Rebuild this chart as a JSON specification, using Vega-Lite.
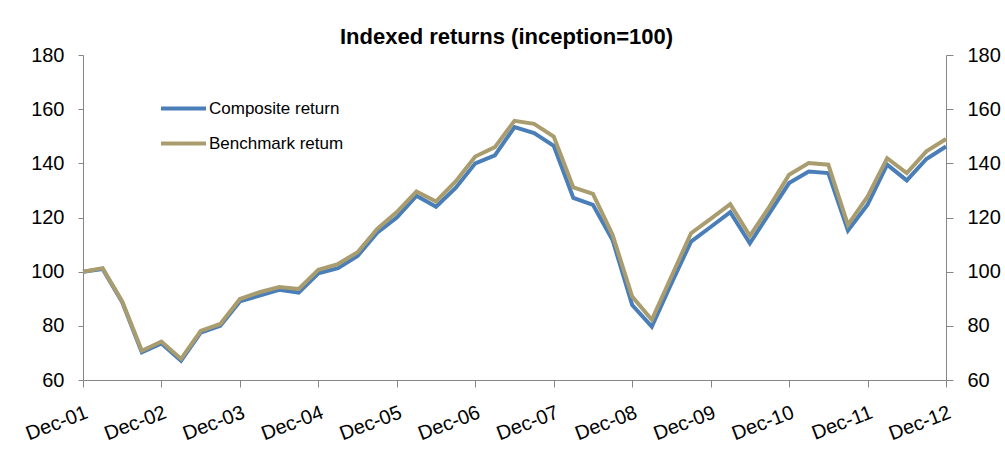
{
  "$schema": "https://vega.github.io/schema/vega-lite/v6.json",
  "width": 863,
  "height": 325,
  "autosize": {"type": "none"},
  "padding": {"left": 83, "top": 55, "right": 59, "bottom": 96},
  "background": "white",
  "title": {"text": "Indexed returns (inception=100)", "font": "Liberation Sans", "fontSize": 22, "fontWeight": "bold", "color": "#000000", "anchor": "middle", "offset": -4, "dx": -8},
  "config": {
    "view": {"stroke": null},
    "axis": {"grid": false, "domainColor": "#868686", "tickColor": "#868686", "labelColor": "#000000", "labelFont": "Liberation Sans", "labelFontSize": 20, "domainWidth": 1, "tickWidth": 1}
  },
  "data": {"values": [
    {"q": "Dec-01", "s": "Composite return", "v": 100},
    {"q": "Mar-02", "s": "Composite return", "v": 101},
    {"q": "Jun-02", "s": "Composite return", "v": 88.7},
    {"q": "Sep-02", "s": "Composite return", "v": 70.2},
    {"q": "Dec-02", "s": "Composite return", "v": 73.5},
    {"q": "Mar-03", "s": "Composite return", "v": 67.1},
    {"q": "Jun-03", "s": "Composite return", "v": 77.5},
    {"q": "Sep-03", "s": "Composite return", "v": 80},
    {"q": "Dec-03", "s": "Composite return", "v": 89},
    {"q": "Mar-04", "s": "Composite return", "v": 91.2},
    {"q": "Jun-04", "s": "Composite return", "v": 93.3},
    {"q": "Sep-04", "s": "Composite return", "v": 92.3},
    {"q": "Dec-04", "s": "Composite return", "v": 99.4},
    {"q": "Mar-05", "s": "Composite return", "v": 101.3},
    {"q": "Jun-05", "s": "Composite return", "v": 105.8},
    {"q": "Sep-05", "s": "Composite return", "v": 114.4},
    {"q": "Dec-05", "s": "Composite return", "v": 120},
    {"q": "Mar-06", "s": "Composite return", "v": 128},
    {"q": "Jun-06", "s": "Composite return", "v": 124},
    {"q": "Sep-06", "s": "Composite return", "v": 130.9},
    {"q": "Dec-06", "s": "Composite return", "v": 140},
    {"q": "Mar-07", "s": "Composite return", "v": 142.9},
    {"q": "Jun-07", "s": "Composite return", "v": 153.4},
    {"q": "Sep-07", "s": "Composite return", "v": 151.2},
    {"q": "Dec-07", "s": "Composite return", "v": 146.5},
    {"q": "Mar-08", "s": "Composite return", "v": 127.2},
    {"q": "Jun-08", "s": "Composite return", "v": 124.7},
    {"q": "Sep-08", "s": "Composite return", "v": 111.7},
    {"q": "Dec-08", "s": "Composite return", "v": 87.7},
    {"q": "Mar-09", "s": "Composite return", "v": 79.7},
    {"q": "Jun-09", "s": "Composite return", "v": 95.7},
    {"q": "Sep-09", "s": "Composite return", "v": 111.1},
    {"q": "Dec-09", "s": "Composite return", "v": 116.5},
    {"q": "Mar-10", "s": "Composite return", "v": 122},
    {"q": "Jun-10", "s": "Composite return", "v": 110.5},
    {"q": "Sep-10", "s": "Composite return", "v": 121.6},
    {"q": "Dec-10", "s": "Composite return", "v": 132.7},
    {"q": "Mar-11", "s": "Composite return", "v": 137},
    {"q": "Jun-11", "s": "Composite return", "v": 136.4},
    {"q": "Sep-11", "s": "Composite return", "v": 115.2},
    {"q": "Dec-11", "s": "Composite return", "v": 124.7},
    {"q": "Mar-12", "s": "Composite return", "v": 139.5},
    {"q": "Jun-12", "s": "Composite return", "v": 133.7},
    {"q": "Sep-12", "s": "Composite return", "v": 141.6},
    {"q": "Dec-12", "s": "Composite return", "v": 146.2},
    {"q": "Dec-01", "s": "Benchmark retum", "v": 100},
    {"q": "Mar-02", "s": "Benchmark retum", "v": 101.3},
    {"q": "Jun-02", "s": "Benchmark retum", "v": 89},
    {"q": "Sep-02", "s": "Benchmark retum", "v": 70.8},
    {"q": "Dec-02", "s": "Benchmark retum", "v": 74.2},
    {"q": "Mar-03", "s": "Benchmark retum", "v": 67.8},
    {"q": "Jun-03", "s": "Benchmark retum", "v": 78.1},
    {"q": "Sep-03", "s": "Benchmark retum", "v": 80.7},
    {"q": "Dec-03", "s": "Benchmark retum", "v": 89.9},
    {"q": "Mar-04", "s": "Benchmark retum", "v": 92.4},
    {"q": "Jun-04", "s": "Benchmark retum", "v": 94.3},
    {"q": "Sep-04", "s": "Benchmark retum", "v": 93.6},
    {"q": "Dec-04", "s": "Benchmark retum", "v": 100.7},
    {"q": "Mar-05", "s": "Benchmark retum", "v": 102.8},
    {"q": "Jun-05", "s": "Benchmark retum", "v": 107.2},
    {"q": "Sep-05", "s": "Benchmark retum", "v": 115.8},
    {"q": "Dec-05", "s": "Benchmark retum", "v": 122},
    {"q": "Mar-06", "s": "Benchmark retum", "v": 129.6},
    {"q": "Jun-06", "s": "Benchmark retum", "v": 125.9},
    {"q": "Sep-06", "s": "Benchmark retum", "v": 133.3},
    {"q": "Dec-06", "s": "Benchmark retum", "v": 142.5},
    {"q": "Mar-07", "s": "Benchmark retum", "v": 146},
    {"q": "Jun-07", "s": "Benchmark retum", "v": 155.7},
    {"q": "Sep-07", "s": "Benchmark retum", "v": 154.6},
    {"q": "Dec-07", "s": "Benchmark retum", "v": 149.9},
    {"q": "Mar-08", "s": "Benchmark retum", "v": 131.1},
    {"q": "Jun-08", "s": "Benchmark retum", "v": 128.7},
    {"q": "Sep-08", "s": "Benchmark retum", "v": 113.6},
    {"q": "Dec-08", "s": "Benchmark retum", "v": 90.8},
    {"q": "Mar-09", "s": "Benchmark retum", "v": 82.2},
    {"q": "Jun-09", "s": "Benchmark retum", "v": 98.2},
    {"q": "Sep-09", "s": "Benchmark retum", "v": 114.2},
    {"q": "Dec-09", "s": "Benchmark retum", "v": 119.5},
    {"q": "Mar-10", "s": "Benchmark retum", "v": 124.9},
    {"q": "Jun-10", "s": "Benchmark retum", "v": 113.2},
    {"q": "Sep-10", "s": "Benchmark retum", "v": 124},
    {"q": "Dec-10", "s": "Benchmark retum", "v": 135.8},
    {"q": "Mar-11", "s": "Benchmark retum", "v": 140.1},
    {"q": "Jun-11", "s": "Benchmark retum", "v": 139.5},
    {"q": "Sep-11", "s": "Benchmark retum", "v": 117.3},
    {"q": "Dec-11", "s": "Benchmark retum", "v": 127.7},
    {"q": "Mar-12", "s": "Benchmark retum", "v": 141.9},
    {"q": "Jun-12", "s": "Benchmark retum", "v": 136.4},
    {"q": "Sep-12", "s": "Benchmark retum", "v": 144.4},
    {"q": "Dec-12", "s": "Benchmark retum", "v": 149}
  ]},
  "encoding": {
    "x": {"field": "q", "type": "ordinal", "sort": null, "scale": {"type": "point", "padding": 0},
      "axis": {"title": null, "values": ["Dec-01","Dec-02","Dec-03","Dec-04","Dec-05","Dec-06","Dec-07","Dec-08","Dec-09","Dec-10","Dec-11","Dec-12"], "labelAngle": -21, "labelAlign": "right", "labelBaseline": "top", "labelPadding": 15, "tickSize": 7, "labelFontSize": 20}}
  },
  "layer": [
    {
      "mark": {"type": "line", "strokeWidth": 4, "strokeJoin": "miter"},
      "encoding": {
        "y": {"field": "v", "type": "quantitative", "scale": {"domain": [60, 180], "nice": false, "zero": false},
          "axis": {"title": null, "orient": "left", "values": [60, 80, 100, 120, 140, 160, 180], "tickSize": 5, "labelPadding": 14}},
        "color": {"field": "s", "type": "nominal", "sort": ["Composite return", "Benchmark retum"],
          "scale": {"domain": ["Composite return", "Benchmark retum"], "range": ["#4a7eb8", "#a99d6f"]},
          "legend": {"title": null, "orient": "none", "legendX": 76, "legendY": 29, "symbolType": "stroke", "symbolSize": 2025, "symbolStrokeWidth": 4, "labelFont": "Liberation Sans", "labelFontSize": 17, "labelColor": "#000000", "labelOffset": 1, "rowPadding": 2, "padding": 0}}
      }
    },
    {
      "mark": {"type": "line", "opacity": 0},
      "encoding": {
        "y": {"field": "v", "type": "quantitative", "scale": {"domain": [60, 180], "nice": false, "zero": false},
          "axis": {"title": null, "orient": "right", "values": [60, 80, 100, 120, 140, 160, 180], "tickSize": 7, "labelPadding": 14}}
      }
    }
  ],
  "resolve": {"scale": {"y": "independent"}}
}
